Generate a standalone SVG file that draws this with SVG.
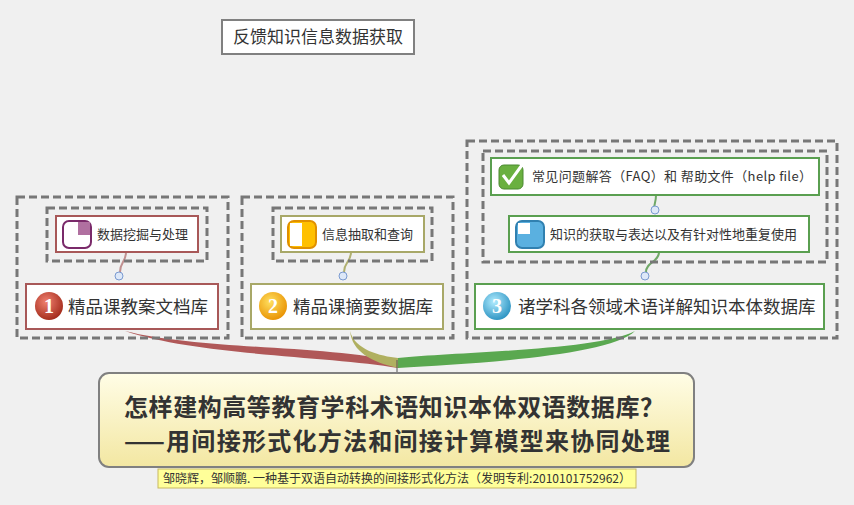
<svg xmlns="http://www.w3.org/2000/svg" width="854" height="505" viewBox="0 0 854 505">
<defs>
<linearGradient id="cg" x1="0" y1="0" x2="0" y2="1"><stop offset="0" stop-color="#fffde6"/><stop offset="1" stop-color="#f3e7a2"/></linearGradient>
<radialGradient id="r1" cx="0.4" cy="0.35" r="0.7"><stop offset="0" stop-color="#f08070"/><stop offset="1" stop-color="#a02818"/></radialGradient>
<radialGradient id="r2" cx="0.4" cy="0.35" r="0.7"><stop offset="0" stop-color="#ffe060"/><stop offset="1" stop-color="#e89000"/></radialGradient>
<radialGradient id="r3" cx="0.4" cy="0.35" r="0.7"><stop offset="0" stop-color="#b0ecff"/><stop offset="1" stop-color="#2890c0"/></radialGradient>
</defs>
<style>
.bg{fill:#f0f0f0}
.dash{fill:none;stroke:#777;stroke-width:3;stroke-dasharray:8,4}
.n{fill:#fff;stroke-width:2}
.red{stroke:#a85858}.ol{stroke:#a8a868}.gr{stroke:#5a9f50}
.t{font-family:"Microsoft YaHei","Noto Sans CJK SC",sans-serif;fill:#333}
.s{font-size:13px}.b{font-size:17.5px}
.col{fill:#dde8f8;stroke:#7a9ad0;stroke-width:1}
.wire{fill:none;stroke-width:2}
</style>
<rect class="bg" width="854" height="505"/>
<g id="title"><rect x="222" y="20" width="192" height="34" fill="#fff" stroke="#808080" stroke-width="2"/><text class="t" x="318" y="43" font-size="17" text-anchor="middle">反馈知识信息数据获取</text></g>
<g id="connectors">
<path d="M125,331 C200,350 330,345 398,362 L398,368 C330,356 200,356 125,331Z" fill="#b05858"/>
<path d="M350,331 C355,350 380,356 398,358 L398,368 C372,362 352,352 350,331Z" fill="#b0b060"/>
<path d="M635,331 C600,350 460,352 398,358 L398,368 C470,364 610,356 635,331Z" fill="#5aa850"/>
<line x1="397" y1="360" x2="397" y2="374" stroke="#555" stroke-width="1"/>
<path class="wire" stroke="#c09090" d="M126,252 C126,262 120,262 120,272"/>
<path class="wire" stroke="#b0b070" d="M351,252 C351,262 344,262 344,272"/>
<path class="wire" stroke="#70a868" d="M656,195 C656,203 654,203 654,210"/>
<path class="wire" stroke="#70a868" d="M659,252 C659,262 646,262 646,272"/>
<circle class="col" cx="119" cy="276" r="4"/><circle class="col" cx="343" cy="276" r="4"/>
<circle class="col" cx="655" cy="210" r="4"/><circle class="col" cx="645" cy="276" r="4"/>
</g>
<g id="group1">
<rect class="dash" x="17" y="197" width="211" height="141"/>
<rect class="dash" x="47" y="208" width="160" height="53"/>
</g>
<g id="node-mining"><rect class="n red" x="56" y="216" width="142" height="36"/>
<rect x="63" y="221" width="28" height="27" rx="6" fill="#fff" stroke="#7a2a6a" stroke-width="2"/><path d="M78,222 h12 v13 h-12z" fill="#b070a0"/>
<text class="t s" x="97" y="239">数据挖掘与处理</text></g>
<g id="node-1"><rect class="n red" x="26" y="284" width="192" height="45"/>
<circle cx="49" cy="306" r="14" fill="url(#r1)"/><text x="49" y="313" font-family="Liberation Serif,serif" font-weight="bold" font-size="20" fill="#fff" text-anchor="middle">1</text>
<text class="t b" x="68" y="313">精品课教案文档库</text></g>
<g id="group2">
<rect class="dash" x="242" y="197" width="211" height="141"/>
<rect class="dash" x="273" y="208" width="159" height="53"/>
</g>
<g id="node-extract"><rect class="n ol" x="281" y="216" width="143" height="36"/>
<rect x="288" y="221" width="28" height="27" rx="6" fill="#ffc000" stroke="#e09000" stroke-width="2"/><rect x="290" y="223" width="12" height="23" fill="#fff"/>
<text class="t s" x="322" y="239">信息抽取和查询</text></g>
<g id="node-2"><rect class="n ol" x="251" y="284" width="192" height="45"/>
<circle cx="273" cy="306" r="14" fill="url(#r2)"/><text x="273" y="313" font-family="Liberation Serif,serif" font-weight="bold" font-size="20" fill="#fff" text-anchor="middle">2</text>
<text class="t b" x="293" y="313">精品课摘要数据库</text></g>
<g id="group3">
<rect class="dash" x="467" y="141" width="370" height="197"/>
<rect class="dash" x="483" y="151" width="344" height="111"/>
</g>
<g id="node-faq"><rect class="n gr" x="491" y="158" width="328" height="37"/>
<rect x="499" y="165" width="24" height="24" rx="5" fill="#6ab040" stroke="#4a8a30"/><path d="M503,175 l6,8 l13,-18" fill="none" stroke="#fff" stroke-width="3"/>
<text class="t s" x="532" y="181" textLength="280">常见问题解答（FAQ）和 帮助文件（help file）</text></g>
<g id="node-know"><rect class="n gr" x="509" y="216" width="300" height="36"/>
<rect x="516" y="221" width="28" height="27" rx="6" fill="#5ab0e0" stroke="#3080b0" stroke-width="2"/><rect x="518" y="223" width="12" height="11" fill="#fff"/>
<text class="t s" x="550" y="239">知识的获取与表达以及有针对性地重复使用</text></g>
<g id="node-3"><rect class="n gr" x="475" y="284" width="349" height="45"/>
<circle cx="497" cy="306" r="14" fill="url(#r3)"/><text x="497" y="313" font-family="Liberation Serif,serif" font-weight="bold" font-size="20" fill="#fff" text-anchor="middle">3</text>
<text class="t b" x="518" y="313">诸学科各领域术语详解知识本体数据库</text></g>
<g id="central"><rect x="99" y="373" width="595" height="94" rx="10" fill="url(#cg)" stroke="#808080" stroke-width="2"/>
<text class="t" x="124" y="416" font-size="24" font-weight="bold" textLength="540">怎样建构高等教育学科术语知识本体双语数据库？</text>
<text class="t" x="124" y="450" font-size="24" font-weight="bold" textLength="546">——用间接形式化方法和间接计算模型来协同处理</text></g>
<g id="note"><rect x="158" y="469" width="478" height="19" fill="#ffff99" stroke="#c8b860"/>
<text class="t" x="397" y="483" font-size="12" text-anchor="middle">邹晓辉，邹顺鹏. 一种基于双语自动转换的间接形式化方法（发明专利:2010101752962）</text></g>
</svg>
